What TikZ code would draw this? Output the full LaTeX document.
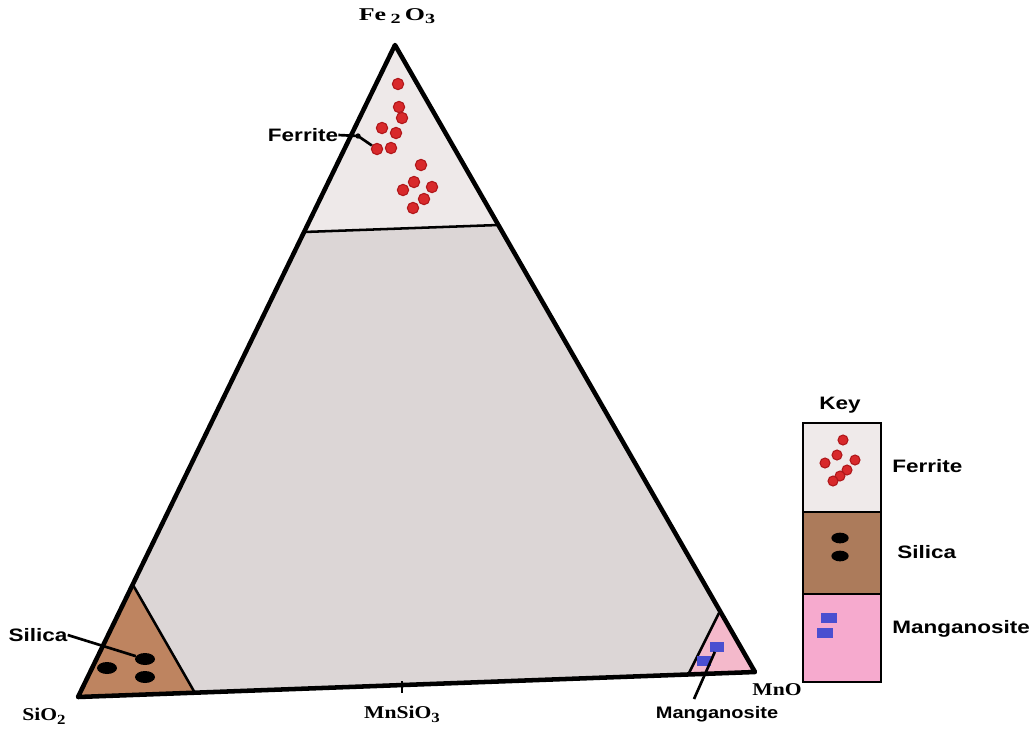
\documentclass[tikz,border=0pt]{standalone}
\usepackage{fontspec}
\setmainfont{Liberation Serif}
\setsansfont{Liberation Sans}
\usetikzlibrary{shapes.geometric}
\definecolor{mainfill}{HTML}{DCD6D6}
\definecolor{topfill}{HTML}{EEE9E9}
\definecolor{silfill}{HTML}{BE8460}
\definecolor{manfill}{HTML}{F4B9CB}
\definecolor{keysil}{HTML}{AC7B5B}
\definecolor{keyman}{HTML}{F6AACE}
\definecolor{keyfer}{HTML}{EFEAEA}
\definecolor{dotred}{HTML}{D8292B}
\definecolor{dotedge}{HTML}{B0171A}
\definecolor{manblue}{HTML}{4A4FD0}
\newcommand{\chsub}[1]{\raisebox{-0.45ex}{\fontsize{10.5}{11}\selectfont #1}}
\begin{document}
\begin{tikzpicture}[x=0.75pt,y=-0.75pt,
  fer/.style={circle,fill=dotred,draw=dotedge,line width=0.8pt,minimum size=8.5pt,inner sep=0pt},
  sil/.style={ellipse,fill=black,minimum width=15pt,minimum height=9pt,inner sep=0pt},
  mnr/.style={rectangle,fill=manblue,minimum width=11pt,minimum height=7pt,inner sep=0pt},
  lab/.style={font=\sffamily\bfseries\fontsize{13.5}{15}\selectfont,xscale=1.25,transform shape,inner sep=0pt},
  chem/.style={font=\bfseries\fontsize{13.5}{15}\selectfont,xscale=1.2,transform shape,inner sep=0pt},
  outl/.style={line width=3.4pt,line join=round},
  inl/.style={line width=1.9pt},
  conn/.style={line width=2pt}]
\useasboundingbox (0,0) rectangle (1034,729);
\fill[white] (0,0) rectangle (1034,729);
% vertices
\coordinate (A) at (395,45);
\coordinate (B) at (78,697);
\coordinate (C) at (755,672);
\coordinate (P1) at (304,232);
\coordinate (P2) at (498,225);
\coordinate (S1) at (133,585);
\coordinate (S2) at (195,693);
\coordinate (M1) at (719,613);
\coordinate (M2) at (688,675);
% fills
\fill[mainfill] (A) -- (B) -- (C) -- cycle;
\fill[topfill] (A) -- (P1) -- (P2) -- cycle;
\fill[silfill] (B) -- (S1) -- (S2) -- cycle;
\fill[manfill] (C) -- (M1) -- (M2) -- cycle;
% inner lines
\draw[inl] (P1) -- (P2);
\draw[inl] (S1) -- (S2);
\draw[inl] (M1) -- (M2);
\draw[line width=1.5pt] (402,681) -- (402,693);
% outline
\draw[outl] (A) -- (B) -- (C) -- cycle;
% ferrite dots
\foreach \n/\x/\y in {1/398/84,2/399/107,3/402/118,4/382/128,5/396/133,6/377/149,7/391/148,8/421/165,9/414/182,10/403/190,11/432/187,12/424/199,13/413/208}
  \node[fer] (f\n) at (\x,\y) {};
% silica ellipses
\node[sil] (s1) at (145,659) {};
\node[sil] (s2) at (107,668) {};
\node[sil] (s3) at (145,677) {};
% manganosite rectangles
\node[mnr] (m1) at (717,647) {};
\node[mnr] (m2) at (704,661) {};
% labels
\node[chem,xscale=1.2] (fe) at (397,16) {Fe\,\chsub{2}\,O\chsub{3}};
\node[chem] (sio) at (44,716) {SiO\chsub{2}};
\node[chem] (mnsio) at (402,714) {MnSiO\chsub{3}};
\node[chem] (mno) at (777,690) {MnO};
\node[lab] (lfer) at (303,135) {Ferrite};
\node[lab] (lsil) at (38,635) {Silica};
\node[lab,font=\sffamily\bfseries\fontsize{12.5}{14}\selectfont,xscale=0.96] (lman) at (717,714) {Manganosite};
% connectors
\coordinate (fe0) at (358,136);
\fill (fe0) circle (2pt);
\draw[conn] (lfer.east) -- (fe0) -- (f6);
\draw[conn] (lsil.east) -- (s1);
\coordinate (mc) at (694,699);
\draw[conn] (mc) -- (m1);
% key
\node[lab] (key) at (840,405) {Key};
\fill[keyfer] (803,423) rectangle (881,512);
\fill[keysil] (803,512) rectangle (881,594);
\fill[keyman] (803,594) rectangle (881,682);
\draw[line width=2.2pt] (803,423) rectangle (881,682);
\draw[line width=2.2pt] (803,512) -- (881,512);
\draw[line width=2.2pt] (803,594) -- (881,594);
\foreach \n/\x/\y in {1/843/440,2/837/455,3/825/463,4/855/460,5/847/470,6/840/476,7/833/481}
  \node[fer,minimum size=7.5pt] (kf\n) at (\x,\y) {};
\node[sil,minimum width=13pt,minimum height=8pt] (ks1) at (840,538) {};
\node[sil,minimum width=13pt,minimum height=8pt] (ks2) at (840,556) {};
\node[mnr,minimum width=12pt,minimum height=7pt] (km1) at (829,618) {};
\node[mnr,minimum width=12pt,minimum height=7pt] (km2) at (825,633) {};
\node[lab,anchor=west] (kl1) at (892,466) {Ferrite};
\node[lab,anchor=west] (kl2) at (897,552) {Silica};
\node[lab,anchor=west] (kl3) at (892,629) {Manganosite};
\end{tikzpicture}
\end{document}
